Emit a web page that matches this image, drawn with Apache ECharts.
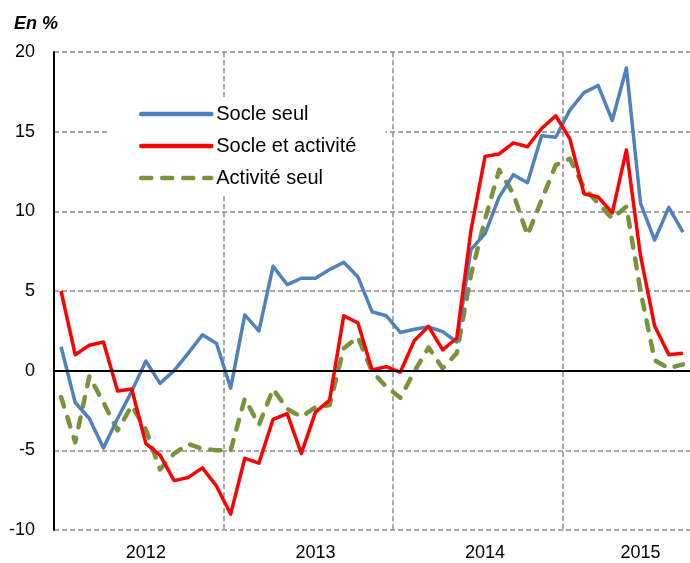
<!DOCTYPE html>
<html>
<head>
<meta charset="utf-8">
<script src="https://cdn.jsdelivr.net/npm/echarts@6/dist/echarts.min.js"></script>
<style>html,body{margin:0;padding:0;background:#fff;}#c{width:690px;height:563px;}</style>
</head>
<body>
<div id="c"></div>
<script>
// Monthly categories Jan 2012 - Sep 2015
var years = ['2012', '2013', '2014', '2015'];
var monthsPerYear = [12, 12, 12, 9];
var categories = [];
years.forEach(function (y, k) {
  for (var m = 1; m <= monthsPerYear[k]; m++) categories.push(y + '-' + (m < 10 ? '0' + m : m));
});
// Index where each year label is shown
var yearLabelIndex = [6, 18, 30, 41];

var socleSeul = [1.5, -2.0, -3.0, -4.85, -3.0, -1.3, 0.6, -0.8, 0.0, 1.1, 2.25, 1.7,
  -1.1, 3.5, 2.5, 6.55, 5.4, 5.8, 5.8, 6.35, 6.8, 5.9, 3.7, 3.45,
  2.4, 2.6, 2.75, 2.45, 1.8, 7.6, 8.6, 10.9, 12.3, 11.8, 14.75, 14.65,
  16.35, 17.45, 17.9, 15.7, 19.0, 10.5, 8.2, 10.25, 8.7];
var socleActivite = [5.0, 1.0, 1.6, 1.8, -1.28, -1.15, -4.58, -5.3, -6.9, -6.7, -6.1, -7.25,
  -9.0, -5.5, -5.8, -3.05, -2.7, -5.2, -2.6, -1.85, 3.45, 3.0, 0.05, 0.25,
  -0.1, 1.9, 2.78, 1.3, 2.05, 8.8, 13.45, 13.6, 14.3, 14.05, 15.2, 16.0,
  14.55, 11.1, 10.9, 9.9, 13.85, 7.2, 2.8, 1.0, 1.1];
var activiteSeul = [-1.65, -4.5, -0.35, -2.0, -3.75, -2.2, -3.7, -6.2, -5.2, -4.6, -4.9, -5.0,
  -5.0, -1.75, -3.4, -1.15, -2.4, -2.9, -2.3, -2.15, 1.4, 2.1, -0.05, -1.0,
  -1.7, -0.05, 1.45, 0.15, 1.1, 6.0, 9.5, 12.6, 11.1, 8.5, 10.7, 12.9,
  13.3, 11.5, 10.5, 9.55, 10.3, 5.0, 0.65, 0.15, 0.4];
var yTicks = {min: -10, max: 20, interval: 5};

var FONT = '"Liberation Sans", Arial, sans-serif';
var chart = echarts.init(document.getElementById('c'), null, {renderer: 'canvas'});
chart.setOption({
  animation: false,
  backgroundColor: '#fff',
  title: {
    text: 'En %', left: 14, top: 15, padding: 0,
    textStyle: {fontFamily: FONT, fontSize: 18, fontWeight: 'bold', fontStyle: 'italic', color: '#000'}
  },
  legend: {
    orient: 'vertical', left: 110, top: 98,
    padding: [6, 29, 8, 29],
    backgroundColor: '#fff',
    itemWidth: 70, itemHeight: 14, itemGap: 12,
    itemStyle: {opacity: 0},
    lineStyle: {width: 4.5, cap: 'round'},
    textStyle: {fontFamily: FONT, fontSize: 20, color: '#000', lineHeight: 20},
    data: ['Socle seul', 'Socle et activité', 'Activité seul']
  },
  grid: {left: 54, right: 0, top: 52, bottom: 33},
  xAxis: {
    type: 'category', data: categories, boundaryGap: true,
    axisLine: {show: false},
    axisTick: {show: false},
    axisLabel: {
      interval: function (i) { return yearLabelIndex.indexOf(i) >= 0; },
      formatter: function (v) { return v.slice(0, 4); },
      fontFamily: FONT, fontSize: 18, color: '#000', margin: 14
    },
    splitLine: {
      show: true,
      showMaxLine: false,
      interval: function (i) { return i > 0 && i % 12 === 0; },
      lineStyle: {color: '#8c8c8c', width: 1.5, type: [5, 3]}
    }
  },
  yAxis: {
    type: 'value', min: yTicks.min, max: yTicks.max, interval: yTicks.interval,
    axisLine: {show: true, lineStyle: {color: '#000', width: 2}},
    axisTick: {show: false},
    axisLabel: {fontFamily: FONT, fontSize: 18, color: '#000', margin: 19},
    splitLine: {show: true, lineStyle: {color: '#8c8c8c', width: 1.5, type: [5, 3]}}
  },
  series: [
    {
      name: 'Socle seul', type: 'line', data: socleSeul, symbol: 'none', z: 3,
      lineStyle: {color: '#4F81BD', width: 3.5, join: 'round'},
      itemStyle: {color: '#4F81BD'},
      markLine: {
        silent: true, symbol: 'none', label: {show: false},
        lineStyle: {color: '#000', width: 2, type: 'solid'},
        data: [{yAxis: 0}]
      }
    },
    {
      name: 'Socle et activité', type: 'line', data: socleActivite, symbol: 'none', z: 4,
      lineStyle: {color: '#FF0000', width: 3.5, join: 'round'},
      itemStyle: {color: '#FF0000'}
    },
    {
      name: 'Activité seul', type: 'line', data: activiteSeul, symbol: 'none', z: 2,
      lineStyle: {color: '#77933C', width: 4.5, type: [10, 11], cap: 'round', join: 'round'},
      itemStyle: {color: '#77933C'}
    }
  ]
});
</script>
</body>
</html>
